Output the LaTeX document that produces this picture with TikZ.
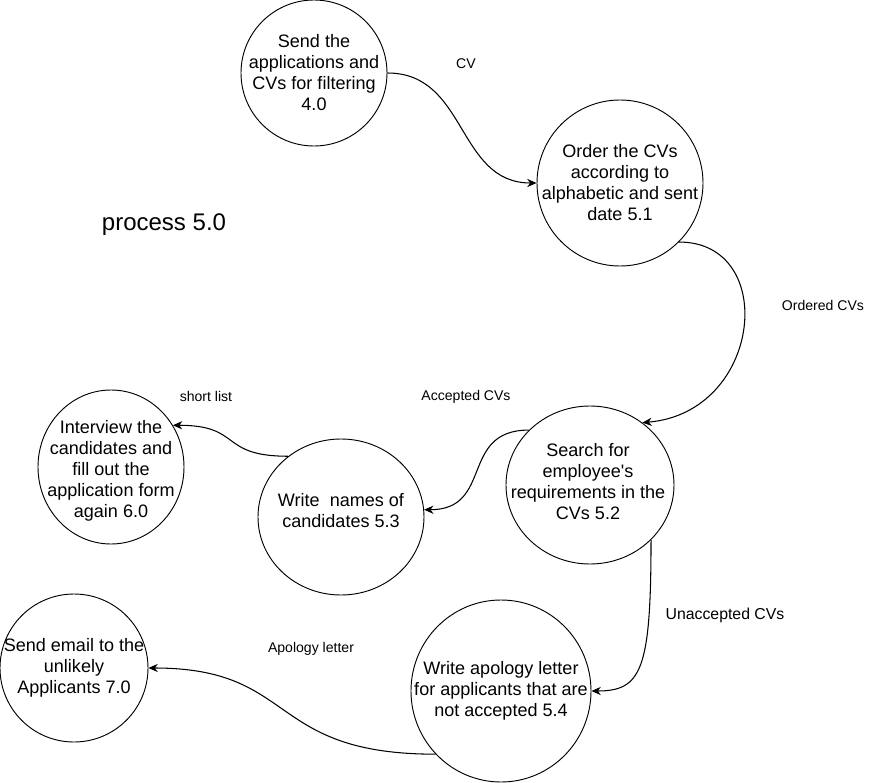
\documentclass[tikz,border=0pt]{standalone}
\usepackage{fontspec}
\setmainfont{Liberation Sans}
\usetikzlibrary{shapes.geometric,arrows.meta}

\tikzset{
  proc/.style={draw, ellipse, line width=0.8pt, inner sep=0pt},
  txt/.style={align=center, font=\fontsize{15.4}{17.9}\selectfont},
  flow/.style={->, >={Stealth[length=8pt,width=7pt]}, line width=0.9pt},
  lbl/.style={font=\fontsize{12}{14}\selectfont}
}

\begin{document}
\begin{tikzpicture}[x=0.03cm,y=-0.03cm]
        \useasboundingbox (0,0) rectangle (885,783);

        % Draw the processes
        \node[proc, minimum width=4.38cm, minimum height=4.38cm] (p40) at (314,73) {};
        \node[txt] (t40) at (p40) {Send the\\applications and\\CVs for filtering\\4.0};
        \node[proc, minimum width=4.98cm, minimum height=4.98cm] (p51) at (620,183) {};
        \node[txt] (t51) at (p51) {Order the CVs\\according to\\alphabetic and sent\\date 5.1};
        \node[proc, minimum width=5.04cm, minimum height=4.74cm] (p52) at (590,485) {};
        \node[txt] (t52) at (588,482) {Search for\\employee\textquotesingle s\\requirements in the\\CVs 5.2};
        \node[proc, minimum width=4.98cm, minimum height=4.68cm] (p53) at (341,517) {};
        \node[txt] (t53) at (341,511) {Write\ \ names of\\candidates 5.3};
        \node[proc, minimum width=4.38cm, minimum height=4.62cm] (p60) at (111,467) {};
        \node[txt] (t60) at (111,471) {Interview the\\candidates and\\fill out the\\application form\\again 6.0};
        \node[proc, minimum width=4.44cm, minimum height=4.44cm] (p70) at (74,668) {};
        \node[txt] (t70) at (p70) {Send email to the\\unlikely\\Applicants 7.0};
        \node[proc, minimum width=5.4cm, minimum height=5.46cm] (p54) at (501,691) {};
        \node[txt] (t54) at (p54) {Write apology letter\\for applicants that are\\not accepted 5.4};

        \node[font=\fontsize{20.5}{24}\selectfont] (title) at (164,225) {process 5.0};

        % Draw the flows
        \draw[flow] (p40.east) .. controls +(80,0) and +(-80,0) .. (p51.west);
        \draw[flow] (p51.-45) .. controls +(100,0) and +(120,-10) .. (p52.50);
        \draw[flow] (p52.138) .. controls +(-70,0) and +(70,0) .. (p53.5);
        \draw[flow] (p53.131) .. controls +(-70,0) and +(70,0) .. (p60.34);
        \draw[flow] (p52.-42) .. controls +(0,130) and +(50,0) .. (p54.east);
        \draw[flow] (p54.-136) .. controls +(-170,0) and +(150,0) .. (p70.east);

        % Flow labels
        \node[lbl] (l40) at (466,64) {CV};
        \node[lbl] (l51) at (823,305) {Ordered CVs};
        \node[lbl] (l52) at (466,397) {Accepted CVs};
        \node[lbl] (l53) at (206,396) {short list};
        \node[lbl, font=\fontsize{13.5}{16}\selectfont] (l54) at (725,615) {Unaccepted CVs};
        \node[lbl] (l70) at (311,649) {Apology letter};
    \end{tikzpicture}
\end{document}
